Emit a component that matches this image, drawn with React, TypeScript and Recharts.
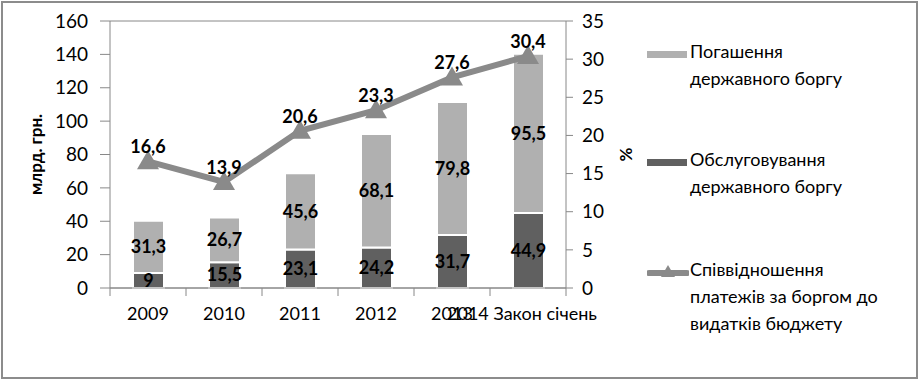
import { ComposedChart, Bar, Line, XAxis, YAxis, CartesianGrid, LabelList } from 'recharts';

const categories = ['2009', '2010', '2011', '2012', '2013', '2014 Закон січень'];
const repayment = [31.3, 26.7, 45.6, 68.1, 79.8, 95.5];
const service = [9, 15.5, 23.1, 24.2, 31.7, 44.9];
const ratio = [16.6, 13.9, 20.6, 23.3, 27.6, 30.4];
const leftTicks = [0, 20, 40, 60, 80, 100, 120, 140, 160];
const rightTicks = [0, 5, 10, 15, 20, 25, 30, 35];

const data = categories.map((name, i) => ({
  name,
  repayment: repayment[i],
  service: service[i],
  ratio: ratio[i],
}));

const FONT = 'Lato, "Noto Sans", sans-serif';
const W = 919;
const H = 379;
const PLOT_LEFT = 110;
const PLOT_RIGHT = 566;
const PLOT_BOTTOM = 288;
const BAND = (PLOT_RIGHT - PLOT_LEFT) / categories.length;

const fmt = (v: any) => String(v).replace('.', ',');

function XTick(props: any) {
  const { x, y, payload, index } = props;
  const last = index === categories.length - 1;
  return (
    <g>
      <line x1={x - BAND / 2} y1={y} x2={x - BAND / 2} y2={y + 8} stroke="#888" />
      {last && <line x1={x + BAND / 2} y1={y} x2={x + BAND / 2} y2={y + 8} stroke="#888" />}
      <text x={last ? x - 6 : x} y={y + 32} textAnchor="middle" fontSize={18} fill="#000" fontFamily={FONT}>
        {payload.value}
      </text>
    </g>
  );
}

function Triangle(props: any) {
  const { cx, cy } = props;
  if (cx == null || cy == null) return null;
  return (
    <path
      d={`M${cx},${cy - 11} L${cx + 11},${cy + 8} L${cx - 11},${cy + 8} Z`}
      fill="#8a8a8a"
    />
  );
}

const legendItems = [
  { color: '#b0b0b0', lines: ['Погашення', 'державного боргу'], top: 38, kind: 'bar' },
  { color: '#606060', lines: ['Обслуговування', 'державного боргу'], top: 146, kind: 'bar' },
  { color: '#8a8a8a', lines: ['Співвідношення', 'платежів за боргом до', 'видатків бюджету'], top: 256, kind: 'line' },
];

export default function App() {
  return (
    <div
      style={{
        position: 'absolute',
        left: 0,
        top: 0,
        width: W,
        height: H,
        background: '#fff',
        fontFamily: FONT,
      }}
    >
      <div
        style={{
          position: 'absolute',
          left: 1,
          top: 1,
          width: W - 6,
          height: H - 5,
          border: '2px solid #8c8c8c',
        }}
      />
      <ComposedChart
        width={W}
        height={H}
        data={data}
        margin={{ top: 21, right: W - PLOT_RIGHT - 60, bottom: 0, left: 0 }}
      >
        <CartesianGrid vertical={false} stroke="#888" strokeWidth={1} />
        <XAxis
          dataKey="name"
          interval={0}
          axisLine={{ stroke: '#888' }}
          tickLine={false}
          tickSize={0}
          tickMargin={0}
          tick={<XTick />}
          height={H - PLOT_BOTTOM}
        />
        <YAxis
          yAxisId="left"
          width={PLOT_LEFT}
          domain={[0, 160]}
          ticks={leftTicks}
          interval={0}
          axisLine={{ stroke: '#888' }}
          tickLine={{ stroke: '#888' }}
          tickSize={10}
          tickMargin={12}
          tick={{ fontSize: 19, fill: '#000', fontFamily: FONT }}
          label={{
            value: 'млрд. грн.',
            angle: -90,
            position: 'insideLeft',
            offset: 36,
            style: { fontSize: 17, fontWeight: 'bold', fill: '#000', fontFamily: FONT, textAnchor: 'middle' },
          }}
        />
        <YAxis
          yAxisId="right"
          orientation="right"
          width={60}
          domain={[0, 35]}
          ticks={rightTicks}
          interval={0}
          axisLine={{ stroke: '#888' }}
          tickLine={{ stroke: '#888' }}
          tickSize={7}
          tickMargin={9}
          tick={{ fontSize: 19, fill: '#000', fontFamily: FONT }}
          label={{
            value: '%',
            angle: -90,
            position: 'insideRight',
            offset: 0,
            style: { fontSize: 17, fontWeight: 'bold', fill: '#000', fontFamily: FONT, textAnchor: 'middle' },
          }}
        />
        <Bar
          yAxisId="left"
          dataKey="service"
          stackId="a"
          fill="#606060"
          stroke="#fff"
          strokeWidth={2}
          barSize={31}
          isAnimationActive={false}
        >
          <LabelList
            dataKey="service"
            position="center"
            formatter={fmt}
            style={{ fontSize: 18, fontWeight: 'bold', fill: '#000', fontFamily: FONT }}
          />
        </Bar>
        <Bar
          yAxisId="left"
          dataKey="repayment"
          stackId="a"
          fill="#b0b0b0"
          stroke="#fff"
          strokeWidth={2}
          barSize={31}
          isAnimationActive={false}
        >
          <LabelList
            dataKey="repayment"
            position="center"
            formatter={fmt}
            style={{ fontSize: 18, fontWeight: 'bold', fill: '#000', fontFamily: FONT }}
          />
        </Bar>
        <Line
          yAxisId="right"
          dataKey="ratio"
          stroke="#8a8a8a"
          strokeWidth={6}
          dot={<Triangle />}
          activeDot={false}
          isAnimationActive={false}
        >
          <LabelList
            dataKey="ratio"
            position="top"
            offset={8}
            formatter={fmt}
            style={{ fontSize: 18, fontWeight: 'bold', fill: '#000', fontFamily: FONT }}
          />
        </Line>
      </ComposedChart>
      {legendItems.map((item) => (
        <div key={item.top} style={{ position: 'absolute', left: 647, top: item.top }}>
          {item.kind === 'bar' ? (
            <div
              style={{
                position: 'absolute',
                left: 0,
                top: 13,
                width: 40,
                height: 7,
                background: item.color,
              }}
            />
          ) : (
            <svg style={{ position: 'absolute', left: 0, top: 6 }} width={42} height={20}>
              <line x1={2} y1={11} x2={40} y2={11} stroke={item.color} strokeWidth={6} strokeLinecap="round" />
              <path d="M21,3 L28,15 L14,15 Z" fill={item.color} />
            </svg>
          )}
          <div
            style={{
              position: 'absolute',
              left: 43,
              top: 0,
              fontSize: 18,
              lineHeight: '27px',
              color: '#000',
              whiteSpace: 'nowrap',
              fontFamily: FONT,
            }}
          >
            {item.lines.map((l) => (
              <div key={l}>{l}</div>
            ))}
          </div>
        </div>
      ))}
    </div>
  );
}
